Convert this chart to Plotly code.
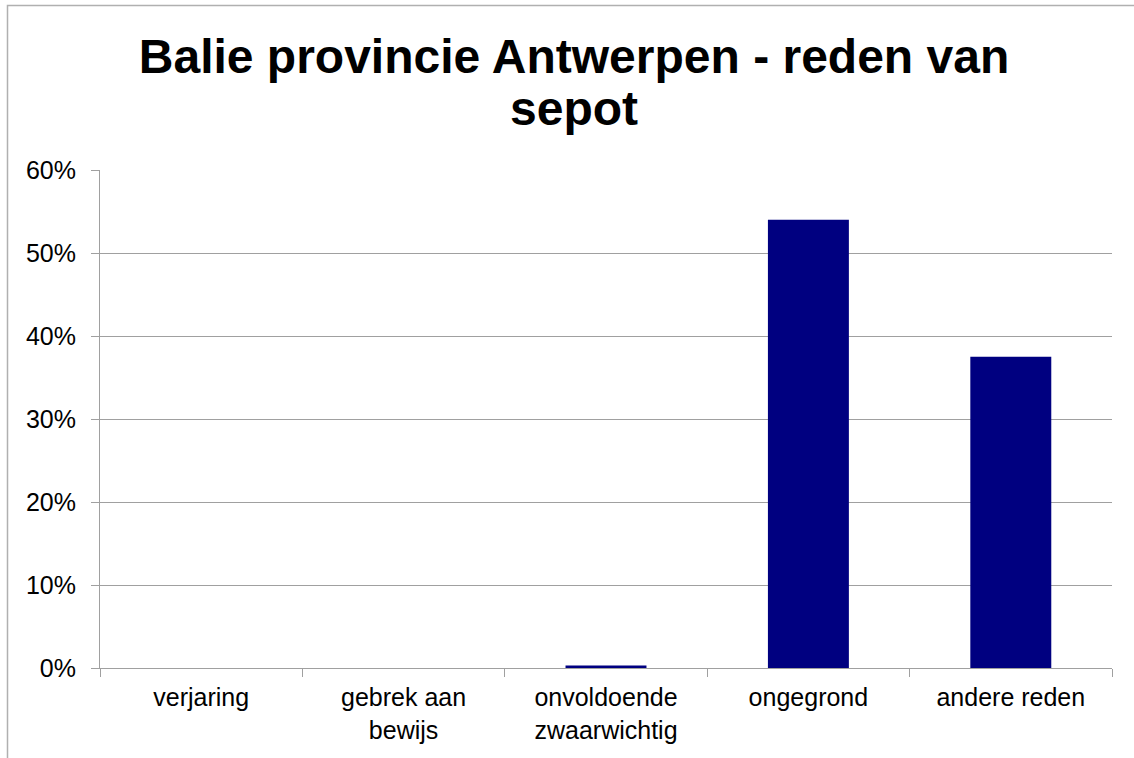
import plotly.graph_objects as go

categories = ["verjaring", "gebrek aan<br>bewijs", "onvoldoende<br>zwaarwichtig", "ongegrond", "andere reden"]
values = [0.0, 0.0, 0.003, 0.54, 0.375]
y_ticks = [0, 0.1, 0.2, 0.3, 0.4, 0.5, 0.6]

title_line1 = "Balie provincie Antwerpen - reden van"
title_line2 = "sepot"

FONT = "Liberation Sans, Arial, sans-serif"

fig = go.Figure()
fig.add_trace(go.Bar(x=categories, y=values, width=0.4,
                     marker=dict(color="#000080", line=dict(width=0))))

W, H = 1134, 758
L, R, T, B = 100, 22, 170, 90
pw, ph = W - L - R, H - T - B

def px_x(p):
    return (p - L) / pw

def px_y(p):
    return (H - B - p) / ph

fig.update_layout(
    width=W, height=H,
    margin=dict(l=L, r=R, t=T, b=B),
    paper_bgcolor="white", plot_bgcolor="white",
    font=dict(family=FONT, color="black", size=25),
    title=dict(text=title_line1, x=574 / W, xref="container", xanchor="center",
               y=1 - 56 / H, yref="container", yanchor="middle",
               font=dict(size=48, family=FONT, color="black", weight="bold")),
    annotations=[dict(text=title_line2, xref="paper", yref="paper",
                      x=px_x(574), y=px_y(108), xanchor="center", yanchor="middle",
                      showarrow=False,
                      font=dict(size=48, family=FONT, color="black", weight="bold"))],
    showlegend=False,
    xaxis=dict(showline=True, linecolor="#a0a0a0", linewidth=1,
               ticks="outside", ticklen=8, tickcolor="#a0a0a0", tickson="boundaries",
               ticklabelstandoff=7,
               showgrid=False, tickfont=dict(size=25)),
    yaxis=dict(range=[0, 0.6], tickvals=y_ticks, tickformat=".0%",
               showline=True, linecolor="#a0a0a0", linewidth=1,
               ticks="outside", ticklen=8, tickcolor="#a0a0a0",
               ticklabelstandoff=10,
               showgrid=True, gridcolor="#a0a0a0", gridwidth=1,
               zeroline=False, tickfont=dict(size=25)),
    shapes=[dict(type="rect", xref="paper", yref="paper",
                 x0=px_x(7.5), x1=px_x(1145), y0=px_y(770), y1=px_y(5.5),
                 line=dict(color="#b0b0b0", width=1.5), fillcolor="rgba(0,0,0,0)", layer="below")],
)

fig.write_html("out.html", config={"displayModeBar": False},
               post_script="document.body.style.margin='0';document.body.style.overflow='hidden';")
